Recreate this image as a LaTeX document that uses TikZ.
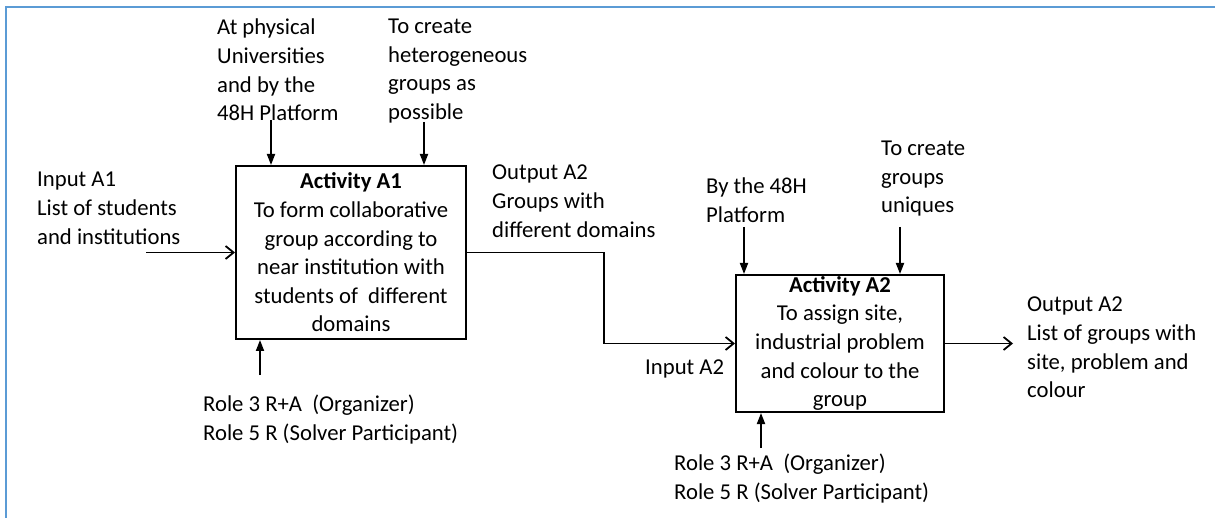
\documentclass[tikz,border=0pt]{standalone}
\usepackage{fontspec}
\setmainfont{Carlito}
\usetikzlibrary{arrows.meta}
\definecolor{frameblue}{RGB}{91,155,213}
\tikzstyle{activity} = [draw=black, line width=2pt, minimum width=230pt, minimum height=173pt, inner sep=0pt, align=center]
\tikzstyle{note} = [anchor=north west, inner sep=0pt, align=left]
\tikzstyle{flow} = [line width=1.8pt, -{Straight Barb[length=8pt,width=13pt]}]
\tikzstyle{ctrl} = [line width=1.8pt, -{Triangle[length=11pt,width=8pt]}]

\begin{document}
\begin{tikzpicture}[x=1pt, y=-1pt, font=\fontsize{22.7}{28.6}\selectfont]
	\useasboundingbox (0,0) rectangle (1215,518);
	\draw[frameblue, line width=2pt] (1215,7) -- (6,7) -- (6,518);

	\node[activity] (act1) at (351,252.5) {\textbf{Activity A1}\\To form collaborative\\group according to\\near institution with\\students of~ different\\domains};
	\node[activity, minimum width=208pt, minimum height=137pt] (act2) at (840,343.5) {\textbf{Activity A2}\\To assign site,\\industrial problem\\and colour to the\\group};

	\node[note] (in1) at (37,172) {Input A1\\List of students\\and institutions};
	\node[note] (ctl1a) at (217,19) {At physical\\Universities\\and by the\\48H Platform};
	\node[note] (ctl1b) at (388,19) {To create\\heterogeneous\\groups as\\possible};
	\node[note] (out1) at (492,165) {Output A2\\Groups with\\different domains};
	\node[note] (mech1) at (203,395) {Role 3 R+A~ (Organizer)\\Role 5 R (Solver Participant)};

	\node[note] (in2) at (645,360) {Input A2};
	\node[note] (ctl2a) at (706,178) {By the 48H\\Platform};
	\node[note] (ctl2b) at (881,141) {To create\\groups\\uniques};
	\node[note] (out2) at (1027,297) {Output A2\\List of groups with\\site, problem and\\colour};
	\node[note] (mech2) at (674,454) {Role 3 R+A~ (Organizer)\\Role 5 R (Solver Participant)};

	\coordinate (in1tail) at (146,252.5);
	\coordinate (c1a) at (271,120);
	\coordinate (c1b) at (424,122);
	\coordinate (m1) at (260,375);
	\coordinate (c2a) at (744,227);
	\coordinate (c2b) at (900,227);
	\coordinate (m2) at (761,448);
	\coordinate (out2tip) at (1013,343.5);

	\draw[flow] (in1tail) -- (act1.west);
	\draw[ctrl] (c1a) -- (c1a |- act1.north);
	\draw[ctrl] (c1b) -- (c1b |- act1.north);
	\draw[ctrl] (m1) -- (m1 |- act1.south);
	\draw[flow] (act1.east) -- ++(137,0) |- (act2.west);

	\draw[ctrl] (c2a) -- (c2a |- act2.north);
	\draw[ctrl] (c2b) -- (c2b |- act2.north);
	\draw[ctrl] (m2) -- (m2 |- act2.south);
	\draw[flow] (act2.east) -- (out2tip);
\end{tikzpicture}
\end{document}
